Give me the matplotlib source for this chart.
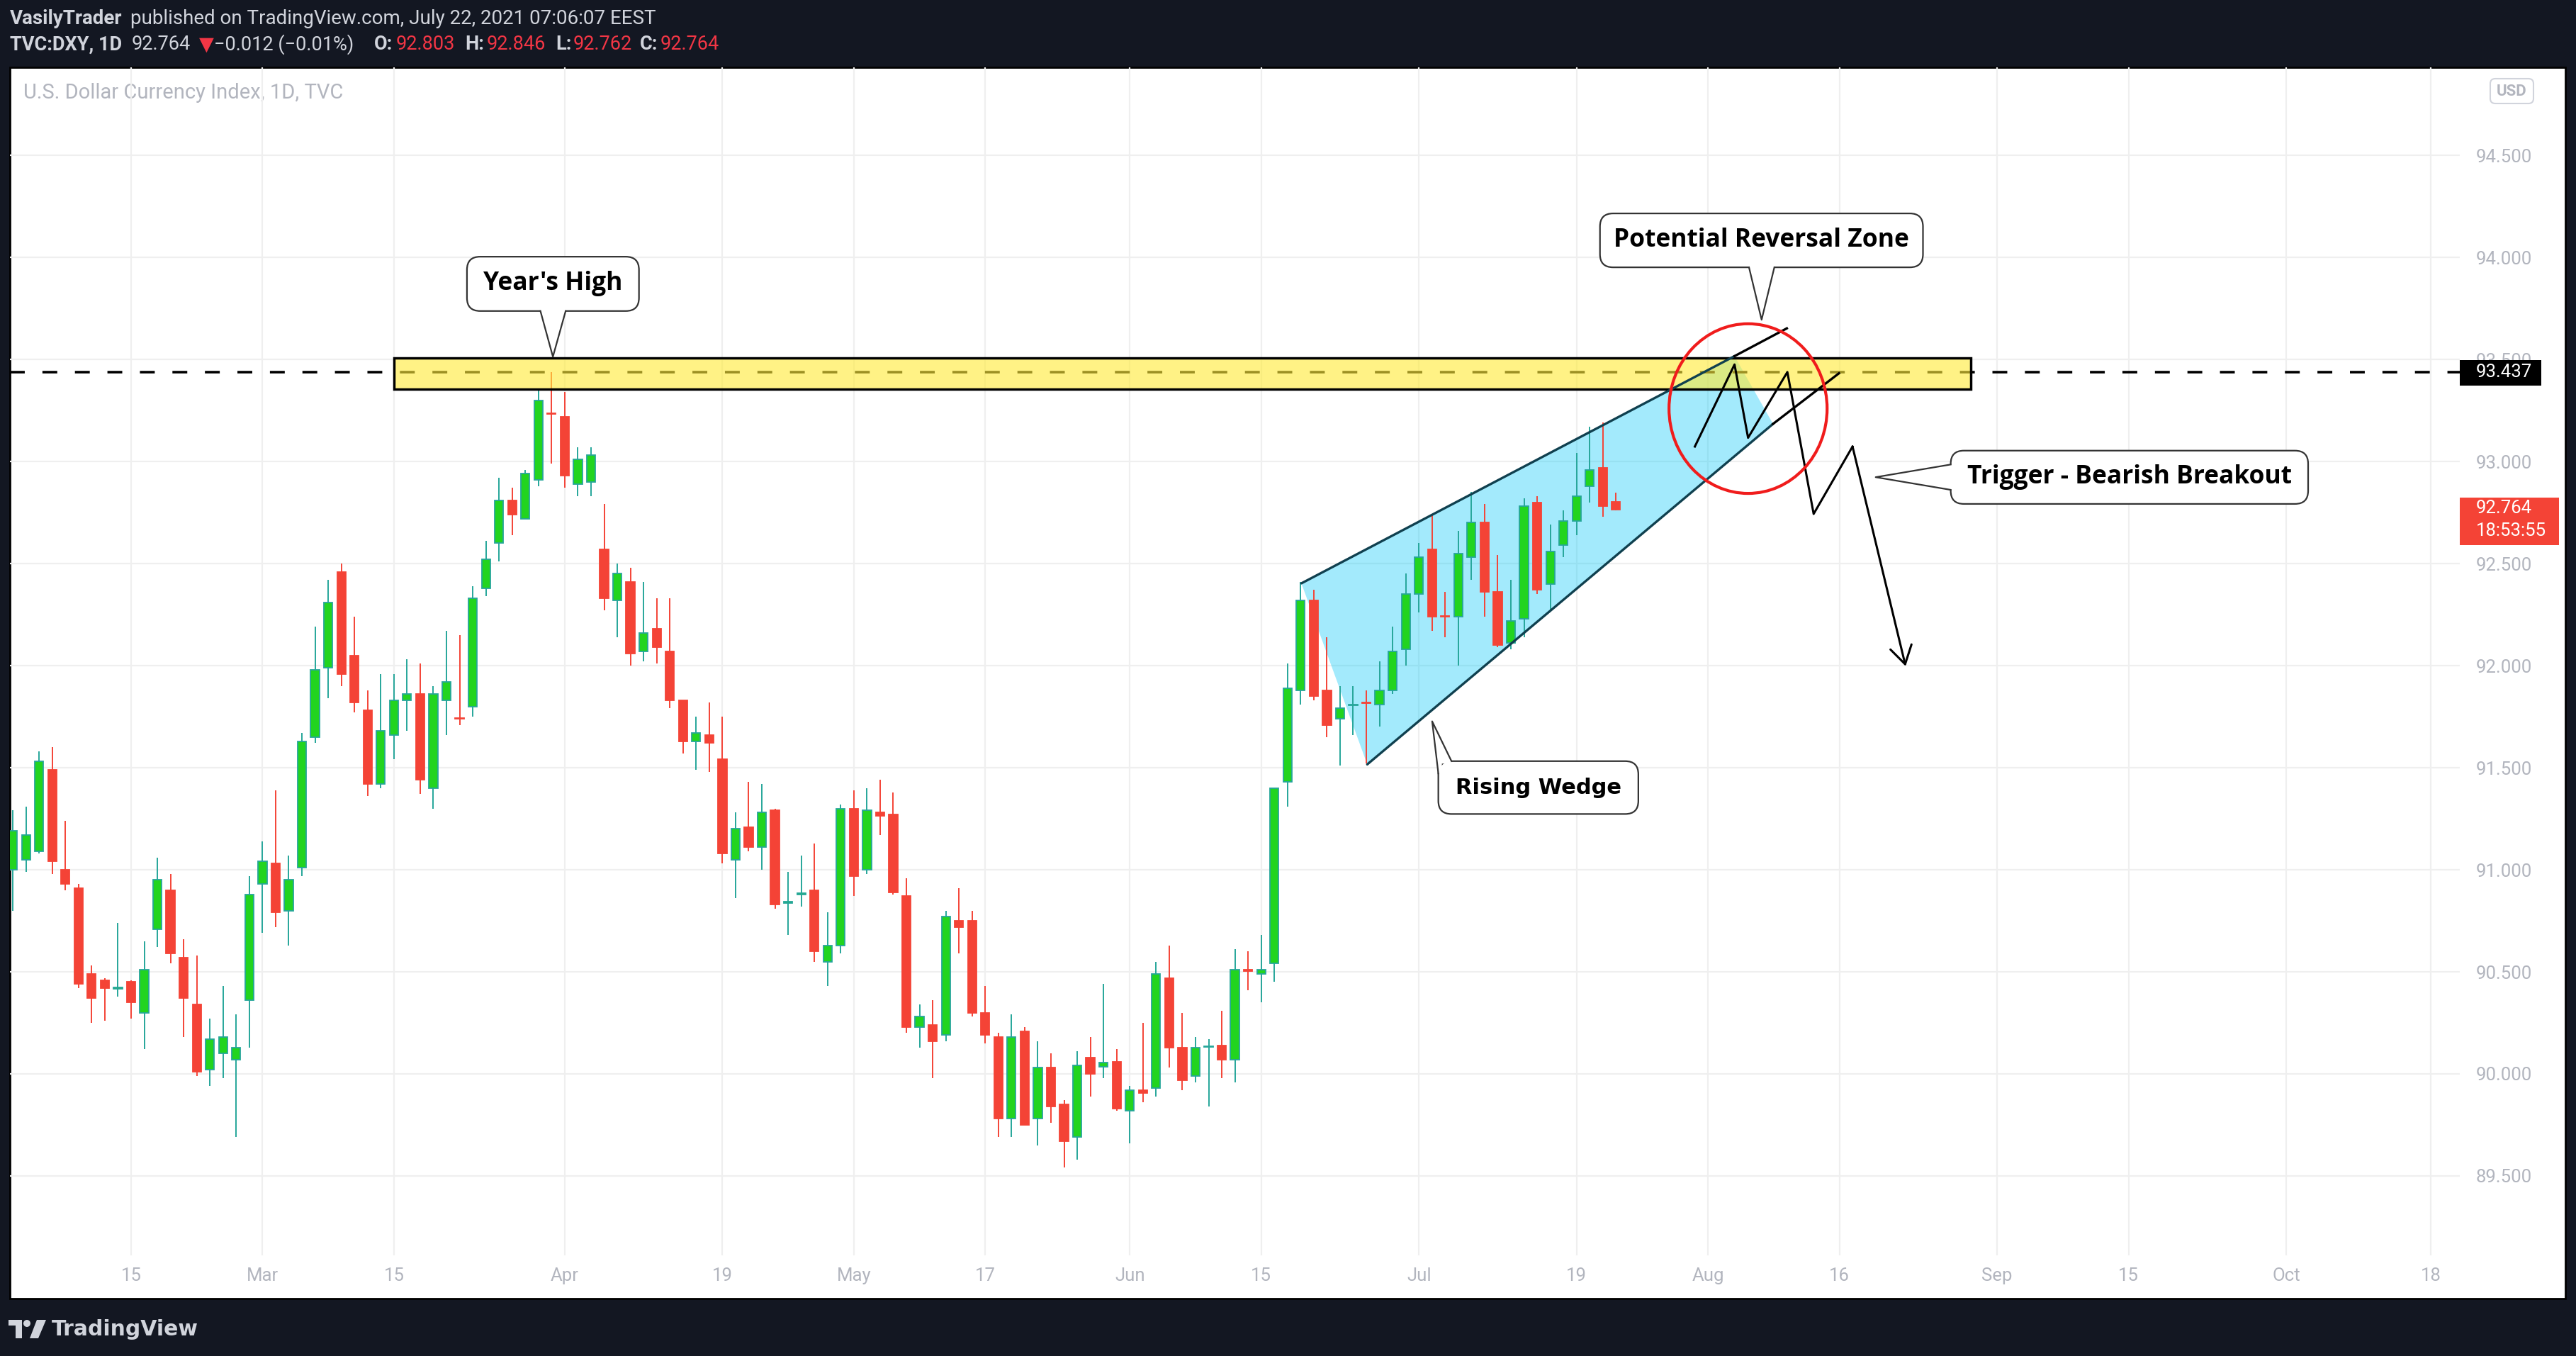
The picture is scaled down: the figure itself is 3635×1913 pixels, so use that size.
############ Packages ############
import numpy as np
import pandas as pd
import matplotlib
matplotlib.use("Agg")
import matplotlib.pyplot as plt
import matplotlib.transforms as mtransforms
from matplotlib.patches import Rectangle, FancyBboxPatch, Polygon, Ellipse, Circle

plt.rcParams["font.family"] = ["Roboto", "DejaVu Sans"]

############ Daily candles TVC:DXY ############
dates = pd.bdate_range("2021-02-02", "2021-07-22")

opens = [91.00, 91.05, 91.09, 91.49, 91.00, 90.91, 90.49, 90.46, 90.418,
         90.45, 90.30, 90.71, 90.90, 90.57, 90.34, 90.02, 90.10, 90.07, 90.36,
         90.93, 91.03, 90.80, 91.01, 91.65, 91.99, 92.46, 92.05, 91.78, 91.42,
         91.66, 91.83, 91.86, 91.40, 91.83, 91.742, 91.80, 92.38, 92.60, 92.81,
         92.72, 92.91, 93.236, 93.22, 92.89, 92.90, 92.57, 92.32, 92.41, 92.07,
         92.18, 92.07, 91.83, 91.63, 91.66, 91.54, 91.05, 91.21, 91.11, 91.29,
         90.837, 90.880, 90.90, 90.55, 90.63, 91.30, 91.00, 91.28, 91.27, 90.87,
         90.23, 90.24, 90.19, 90.75, 90.75, 90.30, 90.18, 89.78, 90.21, 89.78,
         90.03, 89.85, 89.69, 90.08, 90.035, 90.06, 89.82, 89.92, 89.93, 90.47,
         90.13, 89.99, 90.132, 90.14, 90.07, 90.510, 90.49, 90.54, 91.43, 91.88,
         92.32, 91.88, 91.74, 91.805, 91.82, 91.81, 91.88, 92.08, 92.35, 92.57,
         92.243, 92.24, 92.53, 92.70, 92.36, 92.11, 92.23, 92.80, 92.40, 92.59,
         92.71, 92.88, 92.97, 92.803]
highs = [91.29, 91.31, 91.58, 91.60, 91.24, 90.93, 90.53, 90.47, 90.74,
         90.46, 90.65, 91.06, 90.98, 90.66, 90.58, 90.27, 90.43, 90.29, 90.97,
         91.14, 91.39, 91.07, 91.67, 92.19, 92.42, 92.50, 92.24, 91.88, 91.96,
         91.96, 92.03, 92.01, 91.90, 92.17, 92.15, 92.39, 92.61, 92.92, 92.87,
         92.96, 93.35, 93.437, 93.34, 93.07, 93.07, 92.79, 92.50, 92.48, 92.41,
         92.33, 92.33, 91.83, 91.75, 91.82, 91.75, 91.28, 91.43, 91.42, 91.30,
         90.99, 91.07, 91.13, 90.79, 91.32, 91.39, 91.40, 91.44, 91.38, 90.96,
         90.34, 90.36, 90.80, 90.91, 90.80, 90.43, 90.20, 90.29, 90.23, 90.16,
         90.10, 89.87, 90.11, 90.18, 90.44, 90.12, 89.94, 90.25, 90.55, 90.63,
         90.30, 90.18, 90.17, 90.31, 90.61, 90.60, 90.68, 91.40, 92.01, 92.41,
         92.37, 92.14, 91.90, 91.90, 91.88, 92.02, 92.19, 92.45, 92.60, 92.74,
         92.36, 92.66, 92.85, 92.79, 92.54, 92.42, 92.82, 92.83, 92.69, 92.76,
         93.04, 93.17, 93.19, 92.846]
lows = [90.80, 90.99, 91.08, 90.98, 90.90, 90.42, 90.25, 90.26, 90.38,
        90.27, 90.12, 90.62, 90.54, 90.18, 89.99, 89.94, 89.98, 89.69, 90.13,
        90.69, 90.72, 90.63, 90.97, 91.62, 91.84, 91.90, 91.77, 91.36, 91.40,
        91.54, 91.68, 91.37, 91.30, 91.66, 91.71, 91.75, 92.34, 92.51, 92.64,
        92.72, 92.88, 92.99, 92.87, 92.83, 92.83, 92.27, 92.14, 92.00, 92.02,
        92.01, 91.79, 91.57, 91.49, 91.48, 91.03, 90.86, 91.09, 91.00, 90.81,
        90.68, 90.82, 90.55, 90.43, 90.59, 90.87, 90.98, 91.17, 90.88, 90.20,
        90.13, 89.98, 90.16, 90.59, 90.28, 90.15, 89.69, 89.69, 89.75, 89.65,
        89.76, 89.54, 89.58, 89.89, 89.98, 89.82, 89.66, 89.86, 89.89, 90.03,
        89.92, 89.96, 89.84, 89.98, 89.96, 90.41, 90.35, 90.45, 91.31, 91.81,
        91.83, 91.65, 91.51, 91.66, 91.52, 91.70, 91.86, 92.00, 92.26, 92.17,
        92.14, 92.00, 92.42, 92.24, 92.09, 92.08, 92.14, 92.35, 92.27, 92.53,
        92.64, 92.80, 92.73, 92.762]
closes = [91.19, 91.17, 91.53, 91.04, 90.93, 90.44, 90.37, 90.42, 90.424,
          90.35, 90.51, 90.95, 90.59, 90.37, 90.01, 90.17, 90.18, 90.13, 90.88,
          91.04, 90.79, 90.95, 91.63, 91.98, 92.31, 91.96, 91.82, 91.42, 91.68,
          91.83, 91.86, 91.44, 91.86, 91.92, 91.738, 92.33, 92.52, 92.81, 92.74,
          92.94, 93.30, 93.232, 92.93, 93.01, 93.03, 92.33, 92.45, 92.06, 92.16,
          92.09, 91.83, 91.63, 91.67, 91.62, 91.08, 91.20, 91.11, 91.28, 90.83,
          90.843, 90.884, 90.60, 90.63, 91.30, 90.97, 91.29, 91.265, 90.89, 90.23,
          90.28, 90.16, 90.77, 90.72, 90.30, 90.19, 89.78, 90.18, 89.75, 90.03,
          89.84, 89.67, 90.04, 90.00, 90.055, 89.83, 89.92, 89.905, 90.49, 90.13,
          89.97, 90.13, 90.136, 90.07, 90.51, 90.504, 90.51, 91.40, 91.89, 92.32,
          91.85, 91.71, 91.79, 91.809, 91.815, 91.88, 92.07, 92.35, 92.53, 92.24,
          92.239, 92.55, 92.70, 92.36, 92.10, 92.22, 92.78, 92.37, 92.56, 92.71,
          92.83, 92.96, 92.78, 92.764]

price_ticks = [89.5, 90.0, 90.5, 91.0, 91.5, 92.0, 92.5, 93.0, 93.5, 94.0, 94.5]
tick_dates = ["2021-02-15", "2021-03-01", "2021-03-15", "2021-04-01", "2021-04-19",
              "2021-05-03", "2021-05-17", "2021-06-01", "2021-06-15", "2021-07-01",
              "2021-07-19", "2021-08-02", "2021-08-16", "2021-09-01", "2021-09-15",
              "2021-10-01", "2021-10-18"]
tick_labels = ["15", "Mar", "15", "Apr", "19", "May", "17", "Jun", "15", "Jul",
               "19", "Aug", "16", "Sep", "15", "Oct", "18"]

year_high = 93.437
last_price = 92.764

############ Drawings (bar index from Feb 15, price) ############
zone_x = (20, 140)
zone_y = (93.354, 93.508)
wedge_upper = [(89.06, 92.403), (122.02, 93.516)]
wedge_lower = [(94.07, 91.516), (124.95, 93.184)]
ext_upper = [(122.02, 93.516), (126.0, 93.652)]
ext_lower = [(124.95, 93.184), (129.97, 93.432)]
zig_x = [119.0, 122.02, 123.05, 126.04, 128.04, 131.0]
zig_y = [93.073, 93.475, 93.116, 93.438, 92.743, 93.073]
arrow_tip = (135.04, 91.997)
circle_c = (123.05, 93.259)
circle_wh = (12.03, 0.831)

############ Figure ############
W, H = 3635, 1913
BG = "#131722"
GRID = "#efefef"
AXTXT = "#b2b5be"
GREEN, GREEN_EDGE, RED = "#22d41f", "#26a69a", "#f44336"

fig = plt.figure(figsize=(W / 100, H / 100), dpi=100)
fig.patch.set_facecolor(BG)

# background layer in pixel units
bg = fig.add_axes([0, 0, 1, 1], zorder=0)
bg.set_xlim(0, W)
bg.set_ylim(H, 0)
bg.axis("off")
bg.add_patch(Rectangle((14, 95), 3606, 1737, fc="white", ec="black", lw=2))

# header
hdr = "#d1d4dc"
bg.text(14, 27, "VasilyTrader", color=hdr, fontsize=20, fontweight="bold", va="center")
bg.text(184, 27, "published on TradingView.com, July 22, 2021 07:06:07 EEST",
        color=hdr, fontsize=20, va="center")
pieces = [(14, "TVC:DXY, 1D", hdr, "bold"), (186, "92.764", hdr, "normal"),
          (281, "\u25bc", "#f23645", "normal"), (302, "\u22120.012 (\u22120.01%)", hdr, "normal"),
          (528, "O:", hdr, "bold"), (559, "92.803", "#f23645", "normal"),
          (656, "H:", hdr, "bold"), (687, "92.846", "#f23645", "normal"),
          (784, "L:", hdr, "bold"), (809, "92.762", "#f23645", "normal"),
          (903, "C:", hdr, "bold"), (932, "92.764", "#f23645", "normal")]
for px, s, col, wt in pieces:
    bg.text(px, 63, s, color=col, fontsize=19.5, fontweight=wt, va="center")

# footer logo + name
bg.add_patch(Rectangle((12, 1862), 19, 8, fc=hdr, ec="none"))
bg.add_patch(Rectangle((22, 1862), 9, 26, fc=hdr, ec="none"))
bg.add_patch(Circle((38, 1867), 5, fc=hdr, ec="none"))
bg.add_patch(Polygon([(52, 1862), (65, 1862), (54, 1888), (42, 1888)], fc=hdr, ec="none"))
bg.text(73, 1876, "TradingView", color=hdr, fontsize=21.5, fontweight="bold",
        va="center", family=["DejaVu Sans"])

# chart title and currency badge
bg.text(33, 131, "U.S. Dollar Currency Index, 1D, TVC", color=AXTXT, fontsize=21, va="center")
bg.add_patch(FancyBboxPatch((3514, 111), 61, 35, boxstyle="round,pad=0,rounding_size=7",
                            fc="white", ec="#d1d4dc", lw=1.5))
bg.text(3544.5, 129, "USD", color=AXTXT, fontsize=16, fontweight="bold", ha="center", va="center")

############ Price chart ############
ax = fig.add_axes([14 / W, 1 - 1771 / H, 3457 / W, 1676 / H], zorder=1)
ax.set_facecolor("none")
for sp in ax.spines.values():
    sp.set_visible(False)
ax.set_xlim(-9.22, 177.21)
ax.set_ylim(89.1111, 94.9306)

x = np.busday_count("2021-02-15", dates.values.astype("datetime64[D]"))
o, h, l, c = (np.array(v) for v in (opens, highs, lows, closes))
up = c >= o

ax.vlines(x[up], l[up], h[up], color=GREEN_EDGE, lw=1.4, zorder=2)
ax.vlines(x[~up], l[~up], h[~up], color=RED, lw=1.4, zorder=2)
ax.bar(x[up], np.maximum(c - o, 0.003)[up], bottom=o[up], width=0.66,
       color=GREEN, edgecolor=GREEN_EDGE, linewidth=1.3, zorder=3)
ax.bar(x[~up], np.maximum(o - c, 0.003)[~up], bottom=c[~up], width=0.66,
       color=RED, edgecolor=RED, linewidth=1.3, zorder=3)

ax.set_yticks(price_ticks, [f"{v:.3f}" for v in price_ticks])
ax.yaxis.tick_right()
ax.set_xticks(np.busday_count("2021-02-15", np.array(tick_dates, dtype="datetime64[D]")), tick_labels)
ax.tick_params(axis="y", length=0, pad=16.5, labelsize=18.5, labelcolor=AXTXT)
ax.tick_params(axis="x", length=0, pad=12, labelsize=18.5, labelcolor=AXTXT)
ax.grid(True, color=GRID, lw=1.6)
ax.set_axisbelow(True)

# rising wedge fill and lines
wedge = [wedge_upper[0], wedge_upper[1], wedge_lower[1], wedge_lower[0]]
ax.add_patch(Polygon(wedge, closed=True, fc=(0.0, 0.78, 0.97, 0.36), ec="none", zorder=1.5))
for seg in (wedge_upper, wedge_lower):
    ax.plot(*zip(*seg), color="#10404f", lw=2.4, zorder=6, solid_capstyle="round")
for seg in (ext_upper, ext_lower):
    ax.plot(*zip(*seg), color="black", lw=2.4, zorder=6)

# year's high line and zone
ax.axhline(year_high, color="black", lw=2.6, ls=(0, (5.8, 6.9)), zorder=4)
ax.add_patch(Rectangle((zone_x[0], zone_y[0]), zone_x[1] - zone_x[0], zone_y[1] - zone_y[0],
                       fc=(1.0, 0.92, 0.23, 0.62), ec="black", lw=2.5, zorder=5))

# projected path
ax.plot(zig_x, zig_y, color="black", lw=2.2, zorder=6)
ax.annotate("", xy=arrow_tip, xytext=(zig_x[-1], zig_y[-1]),
            arrowprops=dict(arrowstyle="->,head_length=0.9,head_width=0.55", color="black",
                            lw=2.2, mutation_scale=20, shrinkA=0, shrinkB=0), zorder=6)
ax.add_patch(Ellipse(circle_c, circle_wh[0], circle_wh[1], fill=False, ec="#f01c1c", lw=3, zorder=7))

# callouts
ASP = 18.543 / 288.0

def callout(x0, x1, y0, y1, ptr, text, **kw):
    ax.add_patch(FancyBboxPatch((x0, y0), x1 - x0, y1 - y0,
                                boxstyle="round,pad=0,rounding_size=1.0", mutation_aspect=ASP,
                                fc="white", ec="#333333", lw=1.6, zorder=8))
    ax.add_patch(Polygon(ptr, closed=True, fc="white", ec="none", zorder=8.1))
    ax.plot([p[0] for p in ptr[:3]], [p[1] for p in ptr[:3]], color="#333333", lw=1.6, zorder=8.2)
    ax.text((x0 + x1) / 2, (y0 + y1) / 2, text, ha="center", va="center", zorder=8.3,
            color="black", fontweight="bold", **kw)

lbl_font = ["Open Sans", "DejaVu Sans"]
callout(25.56, 38.65, 93.737, 94.003,
        [(31.15, 93.737), (32.1, 93.513), (33.07, 93.737), (33.07, 93.75), (31.15, 93.75)],
        "Year's High", fontsize=25.5, family=lbl_font)
callout(111.78, 136.36, 93.951, 94.215,
        [(123.12, 93.951), (124.08, 93.694), (125.05, 93.951), (125.05, 93.965), (123.12, 93.965)],
        "Potential Reversal Zone", fontsize=25.5, family=lbl_font)
callout(138.47, 165.67, 92.792, 93.053,
        [(138.47, 92.985), (132.76, 92.923), (138.47, 92.861), (138.8, 92.861), (138.8, 92.985)],
        "Trigger - Bearish Breakout", fontsize=25.5, family=lbl_font)
callout(99.48, 114.70, 91.273, 91.532,
        [(100.48, 91.532), (99.01, 91.727), (99.48, 91.472), (99.75, 91.472), (99.75, 91.52),
         (100.48, 91.52)],
        "Rising Wedge", fontsize=22, family=["DejaVu Sans"])

# price scale labels
blend = mtransforms.blended_transform_factory(ax.transAxes, ax.transData)
ax.add_patch(Rectangle((1.0, 93.372), 0.0333, 0.123, transform=blend, fc="black",
                       ec="none", clip_on=False, zorder=10))
ax.text(1.00665, year_high, f"{year_high:.3f}", transform=blend, color="white",
        fontsize=18.5, va="center", ha="left", clip_on=False, zorder=11)
ax.add_patch(Rectangle((1.0, 92.590), 0.0405, 0.233, transform=blend, fc=RED,
                       ec="none", clip_on=False, zorder=10))
ax.text(1.00665, 92.771, f"{last_price:.3f}", transform=blend, color="white",
        fontsize=18.5, va="center", ha="left", clip_on=False, zorder=11)
ax.text(1.00665, 92.661, "18:53:55", transform=blend, color="white",
        fontsize=18.5, va="center", ha="left", clip_on=False, zorder=11)

fig.savefig("out.png", dpi=100, facecolor=BG)
